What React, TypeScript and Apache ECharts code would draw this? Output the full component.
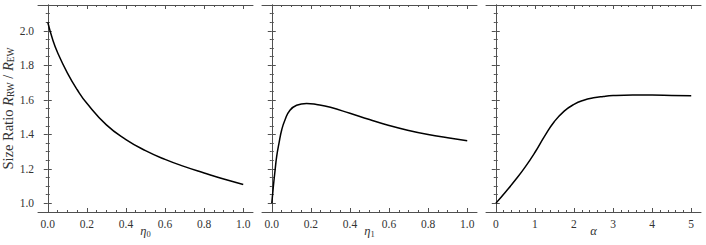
import React, { useEffect, useRef } from "react";
import * as echarts from "echarts";

// ---- Data ----
const eta0X = [0.0, 0.025, 0.05, 0.1, 0.15, 0.2, 0.3, 0.4, 0.5, 0.6, 0.7, 0.8, 0.9, 1.0];
const eta0Y = [2.05, 1.95, 1.875, 1.757, 1.66, 1.58, 1.455, 1.37, 1.306, 1.255, 1.213, 1.176, 1.141, 1.11];

const eta1X = [0.0, 0.008, 0.017, 0.025, 0.037, 0.051, 0.068, 0.093, 0.127, 0.178, 0.229, 0.3, 0.4, 0.5, 0.6, 0.7, 0.8, 0.9, 1.0];
const eta1Y = [1.0, 1.097, 1.193, 1.271, 1.349, 1.427, 1.485, 1.54, 1.569, 1.579, 1.573, 1.557, 1.522, 1.486, 1.452, 1.423, 1.399, 1.38, 1.363];

const alphaX = [0.0, 0.25, 0.5, 0.75, 1.0, 1.25, 1.5, 1.75, 2.0, 2.25, 2.5, 2.75, 3.0, 3.5, 4.0, 4.5, 5.0];
const alphaY = [1.0, 1.066, 1.135, 1.21, 1.295, 1.39, 1.475, 1.535, 1.574, 1.598, 1.612, 1.62, 1.625, 1.628, 1.628, 1.626, 1.624];

const unitXMajor = [0, 0.2, 0.4, 0.6, 0.8, 1.0];
const unitXMinor = [0.05, 0.1, 0.15, 0.25, 0.3, 0.35, 0.45, 0.5, 0.55, 0.65, 0.7, 0.75, 0.85, 0.9, 0.95];
const alphaMajor = [0, 1, 2, 3, 4, 5];
const alphaMinor = [0.2, 0.4, 0.6, 0.8, 1.2, 1.4, 1.6, 1.8, 2.2, 2.4, 2.6, 2.8, 3.2, 3.4, 3.6, 3.8, 4.2, 4.4, 4.6, 4.8];
const yMajor = [1.0, 1.2, 1.4, 1.6, 1.8, 2.0];
const yMinor = [0.95, 1.05, 1.1, 1.15, 1.25, 1.3, 1.35, 1.45, 1.5, 1.55, 1.65, 1.7, 1.75, 1.85, 1.9, 1.95, 2.05, 2.1, 2.15];

const FONT = "Liberation Serif";
const FRAME = "#505050";
const TEXT = "#333";

export default function App() {
  const ref = useRef<HTMLDivElement>(null);
  useEffect(() => {
    if (!ref.current) return;
    const chart = echarts.init(ref.current, undefined, { renderer: "svg" });

    const grids = [
      { left: 38, top: 5, width: 215, height: 207, outerBoundsMode: "none", containLabel: false },
      { left: 262, top: 5, width: 215, height: 207, outerBoundsMode: "none", containLabel: false },
      { left: 486, top: 5, width: 215, height: 207, outerBoundsMode: "none", containLabel: false },
    ];
    const panels = [
      { xs: eta0X, ys: eta0Y, min: -0.05, max: 1.05, major: unitXMajor, minor: unitXMinor, name: "{i|η}{s|0}", fmt: (v: number) => v.toFixed(1) },
      { xs: eta1X, ys: eta1Y, min: -0.05, max: 1.05, major: unitXMajor, minor: unitXMinor, name: "{i|η}{s|1}", fmt: (v: number) => v.toFixed(1) },
      { xs: alphaX, ys: alphaY, min: -0.25, max: 5.25, major: alphaMajor, minor: alphaMinor, name: "{i|α}", fmt: (v: number) => String(v) },
    ];
    const yMin = 0.95;
    const yMax = 2.15;

    const xAxes: any[] = [];
    const yAxes: any[] = [];
    const series: any[] = [];

    const xNameRich = {
      i: { fontFamily: FONT, fontStyle: "italic", fontSize: 12.5, color: TEXT, lineHeight: 14 },
      s: { fontFamily: FONT, fontSize: 8.5, color: TEXT, verticalAlign: "bottom" },
    };
    const yNameRich = {
      a: { fontFamily: FONT, fontSize: 14.5, color: TEXT, lineHeight: 17 },
      i: { fontFamily: FONT, fontStyle: "italic", fontSize: 14.5, color: TEXT, lineHeight: 17 },
      s: { fontFamily: FONT, fontSize: 9.5, color: TEXT, verticalAlign: "bottom" },
    };

    panels.forEach((p, gi) => {
      const base = { gridIndex: gi, type: "value", min: p.min, max: p.max, splitLine: { show: false } };
      const mainX = xAxes.length;
      xAxes.push({
        ...base,
        position: "bottom",
        axisLine: { show: true, lineStyle: { color: FRAME, width: 1 } },
        axisTick: { show: true, inside: true, length: 4, customValues: p.major, lineStyle: { color: FRAME, width: 1 } },
        axisLabel: { show: true, customValues: p.major, formatter: p.fmt, margin: 6, fontFamily: FONT, fontSize: 11.5, color: TEXT },
        name: p.name,
        nameLocation: "middle",
        nameGap: 12,
        nameMoveOverlap: false,
        nameTextStyle: { rich: xNameRich },
      });
      xAxes.push({
        ...base,
        position: "bottom",
        axisLine: { show: false },
        axisTick: { show: true, inside: true, length: 2, customValues: p.minor, lineStyle: { color: FRAME, width: 1 } },
        axisLabel: { show: false },
      });
      xAxes.push({
        ...base,
        position: "top",
        axisLine: { show: true, lineStyle: { color: FRAME, width: 1 } },
        axisTick: { show: true, inside: true, length: 4, customValues: p.major, lineStyle: { color: FRAME, width: 1 } },
        axisLabel: { show: false },
      });
      xAxes.push({
        ...base,
        position: "top",
        axisLine: { show: false },
        axisTick: { show: true, inside: true, length: 2, customValues: p.minor, lineStyle: { color: FRAME, width: 1 } },
        axisLabel: { show: false },
      });

      const ybase = { gridIndex: gi, type: "value", min: yMin, max: yMax, splitLine: { show: false } };
      const mainY = yAxes.length;
      yAxes.push({
        ...ybase,
        position: "left",
        axisLine: { show: true, lineStyle: { color: FRAME, width: 1 } },
        axisTick: { show: true, inside: true, length: 4, customValues: yMajor, lineStyle: { color: FRAME, width: 1 } },
        axisLabel: {
          show: gi === 0,
          customValues: yMajor,
          formatter: (v: number) => v.toFixed(1),
          margin: 4,
          fontFamily: FONT,
          fontSize: 11.5,
          color: TEXT,
        },
        ...(gi === 0
          ? {
              name: "{a|Size Ratio }{i|R}{s|RW}{a| / }{i|R}{s|EW}",
              nameLocation: "middle",
              nameGap: 22,
              nameRotate: 90,
              nameMoveOverlap: false,
              nameTextStyle: { rich: yNameRich },
            }
          : {}),
      });
      yAxes.push({
        ...ybase,
        position: "left",
        axisLine: { show: false },
        axisTick: { show: true, inside: true, length: 2, customValues: yMinor, lineStyle: { color: FRAME, width: 1 } },
        axisLabel: { show: false },
      });
      yAxes.push({
        ...ybase,
        position: "right",
        axisLine: { show: true, lineStyle: { color: FRAME, width: 1 } },
        axisTick: { show: true, inside: true, length: 4, customValues: yMajor, lineStyle: { color: FRAME, width: 1 } },
        axisLabel: { show: false },
      });
      yAxes.push({
        ...ybase,
        position: "right",
        axisLine: { show: false },
        axisTick: { show: true, inside: true, length: 2, customValues: yMinor, lineStyle: { color: FRAME, width: 1 } },
        axisLabel: { show: false },
      });

      series.push({
        type: "line",
        xAxisIndex: mainX,
        yAxisIndex: mainY,
        data: p.xs.map((x, i) => [x, p.ys[i]]),
        showSymbol: false,
        smooth: 0.5,
        lineStyle: { color: "#000", width: 1.5 },
        silent: true,
      });
    });

    chart.setOption({
      animation: false,
      backgroundColor: "#fff",
      grid: grids,
      xAxis: xAxes,
      yAxis: yAxes,
      series,
    });
    return () => chart.dispose();
  }, []);

  return (
    <div
      ref={ref}
      style={{ position: "fixed", left: 0, top: 0, width: 706, height: 245 }}
    />
  );
}
